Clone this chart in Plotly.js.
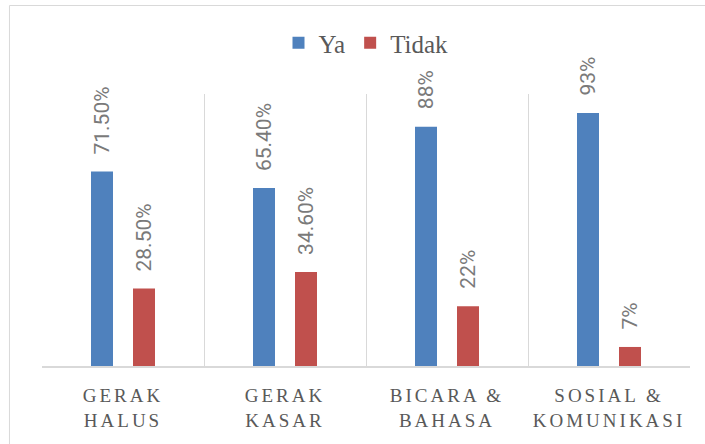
<!DOCTYPE html>
<html>
<head>
<meta charset="utf-8">
<script src="https://cdn.plot.ly/plotly-3.0.1.min.js"></script>
<style>
  html, body { margin: 0; padding: 0; background: #ffffff; }
  #chart { width: 705px; height: 444px; }
  .xtick text { letter-spacing: 3px; }
</style>
</head>
<body>
<div id="chart"></div>
<script>
const categories = ["GERAK<br>HALUS", "GERAK<br>KASAR", "BICARA &<br>BAHASA", "SOSIAL &<br>KOMUNIKASI"];
const yaValues = [71.5, 65.4, 88, 93];
const tidakValues = [28.5, 34.6, 22, 7];
const yaLabels = ["71.50%", "65.40%", "88%", "93%"];
const tidakLabels = ["28.50%", "34.60%", "22%", "7%"];

const labelFont = { family: "Roboto, Open Sans, sans-serif", size: 21, color: "#7a7a7a" };
const serifFont = "Liberation Serif, DejaVu Serif, serif";

const traces = [
  { type: "bar", name: "Ya", x: categories, y: yaValues, marker: { color: "#4f81bd" }, hoverinfo: "none" },
  { type: "bar", name: "Tidak", x: categories, y: tidakValues, marker: { color: "#c0504d" }, hoverinfo: "none" }
];

const annotations = [];
categories.forEach((c, i) => {
  annotations.push({ x: c, y: yaValues[i], xref: "x", yref: "y", text: yaLabels[i], showarrow: false,
    textangle: -90, xanchor: "center", yanchor: "bottom", xshift: -21, yshift: 15, font: labelFont });
  annotations.push({ x: c, y: tidakValues[i], xref: "x", yref: "y", text: tidakLabels[i], showarrow: false,
    textangle: -90, xanchor: "center", yanchor: "bottom", xshift: 21, yshift: 15, font: labelFont });
});

const layout = {
  width: 705, height: 444,
  margin: { l: 42, r: 15, t: 94, b: 78, pad: 0 },
  paper_bgcolor: "#ffffff", plot_bgcolor: "#ffffff",
  barmode: "group", bargap: 0.4815, bargroupgap: 0.476,
  showlegend: true,
  legend: { orientation: "h", x: 0.5, xanchor: "center", y: 1.1875, yanchor: "middle",
    font: { family: serifFont, size: 25, color: "#595959" } },
  xaxis: {
    type: "category", tickson: "boundaries", showgrid: true, gridcolor: "#d9d9d9", gridwidth: 1,
    showline: true, linecolor: "#d9d9d9", linewidth: 2, ticks: "", ticklabelstandoff: 11,
    tickfont: { family: serifFont, size: 19, color: "#595959" },
    range: [-0.5, 3.5], fixedrange: true
  },
  yaxis: { range: [0, 100], showgrid: false, zeroline: false, showticklabels: false, showline: false, fixedrange: true },
  annotations: annotations,
  shapes: [
    { type: "line", xref: "paper", yref: "paper", x0: -0.0502, x1: -0.0502, y0: -0.5, y1: 1.3254, line: { color: "#d9d9d9", width: 1 } },
    { type: "line", xref: "paper", yref: "paper", x0: -0.0502, x1: 1.1, y0: 1.3254, y1: 1.3254, line: { color: "#d9d9d9", width: 1 } }
  ]
};

Plotly.newPlot("chart", traces, layout, { displayModeBar: false, staticPlot: true });
</script>
</body>
</html>
